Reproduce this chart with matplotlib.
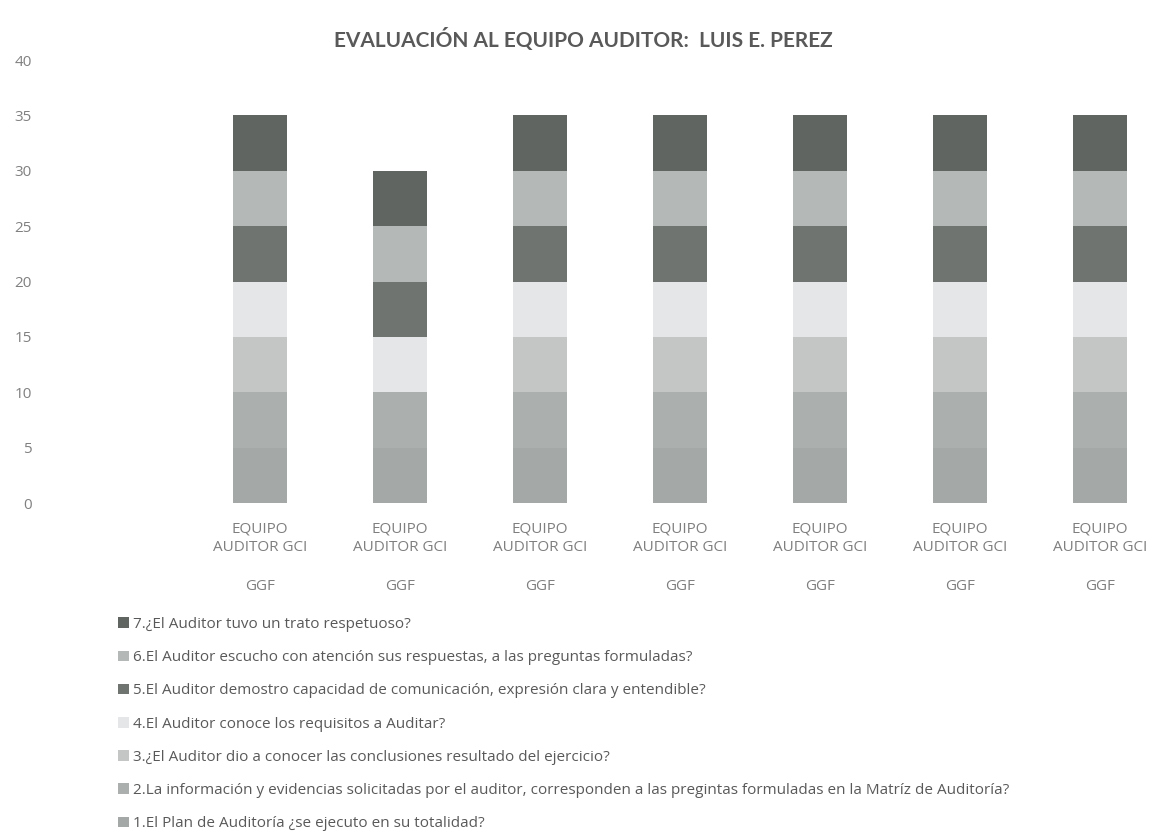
import matplotlib
matplotlib.use("Agg")
import matplotlib.pyplot as plt
import numpy as np

categories = ["EQUIPO\nAUDITOR GCI\n\nGGF"] * 7
series_labels = [
    "1.El Plan de Auditoría ¿se ejecuto en su totalidad?",
    "2.La información y evidencias solicitadas por el auditor, corresponden a las pregintas formuladas en la Matríz de Auditoría?",
    "3.¿El Auditor dio a conocer las conclusiones resultado del ejercicio?",
    "4.El Auditor conoce los requisitos a Auditar?",
    "5.El Auditor demostro capacidad de comunicación, expresión clara y entendible?",
    "6.El Auditor escucho con atención sus respuestas, a las preguntas formuladas?",
    "7.¿El Auditor tuvo un trato respetuoso?",
]
s1 = [5, 5, 5, 5, 5, 5, 5]
s2 = [5, 5, 5, 5, 5, 5, 5]
s3 = [5, 0, 5, 5, 5, 5, 5]
s4 = [5, 5, 5, 5, 5, 5, 5]
s5 = [5, 5, 5, 5, 5, 5, 5]
s6 = [5, 5, 5, 5, 5, 5, 5]
s7 = [5, 5, 5, 5, 5, 5, 5]
series = [s1, s2, s3, s4, s5, s6, s7]
colors = ["#a4a8a6", "#abafad", "#c3c6c5", "#e4e6e7", "#6f7471", "#b4b8b7", "#606562"]

plt.rcParams['font.family'] = ['Open Sans', 'DejaVu Sans']
W, H = 1161, 833
fig = plt.figure(figsize=(W / 100, H / 100), dpi=100)
ax = fig.add_axes([190 / W, 1 - 503 / H, 971 / W, (503 - 60) / H])

x = np.arange(len(categories))
bottom = np.zeros(len(categories))
handles = []
for vals, col, lab in zip(series, colors, series_labels):
    b = ax.bar(x, vals, width=0.39, bottom=bottom, color=col, label=lab)
    handles.append(b)
    bottom += np.array(vals)

ax.set_xlim(-0.5, -0.5 + 971 / 140)
ax.set_ylim(0, 40)
ax.set_yticks(range(0, 41, 5))
for s in ax.spines.values():
    s.set_visible(False)
ax.tick_params(axis='y', length=0, pad=114, labelsize=11, labelcolor="#808080")
ax.tick_params(axis='x', length=0, pad=13)
ax.set_xticks(x)
ax.set_xticklabels(categories, fontsize=11, color="#7f7f7f", linespacing=1.38)

fig.text(583 / W, 1 - 40 / H, "EVALUACIÓN AL EQUIPO AUDITOR:  LUIS E. PEREZ",
         ha="center", va="center", fontsize=15, fontweight="bold", color="#595959",
         family=["Lato", "DejaVu Sans"])

leg = fig.legend(handles[::-1], series_labels[::-1], loc="upper left",
                 bbox_to_anchor=(112 / W, 1 - 611 / H), frameon=False,
                 fontsize=11, handlelength=0.7, handleheight=0.7,
                 handletextpad=0.3, labelspacing=1.19, borderaxespad=0)
for t in leg.get_texts():
    t.set_color("#595959")

fig.savefig("out.png", dpi=100)
